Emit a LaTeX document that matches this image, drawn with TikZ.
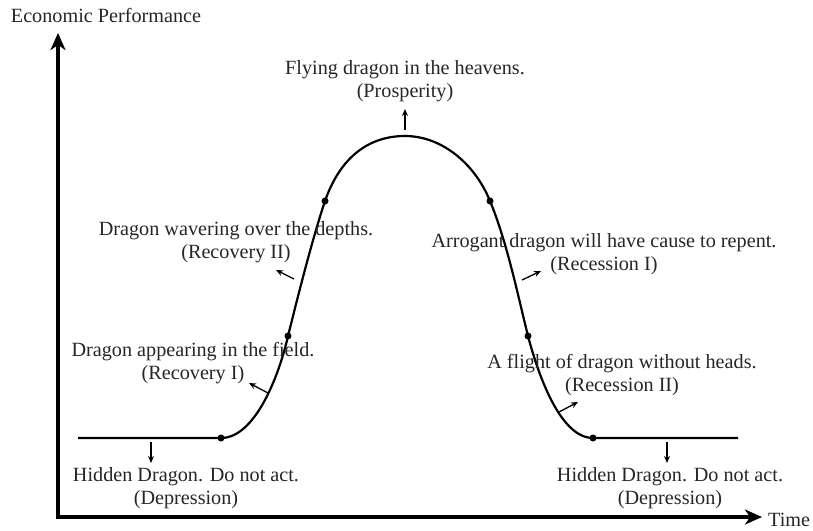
\documentclass[tikz,border=0pt]{standalone}
\usepackage{fontspec}
\setmainfont{Liberation Serif}
\usetikzlibrary{arrows.meta}

\begin{document}
\begin{tikzpicture}[x=1pt,y=-1pt]
\tikzset{
axis/.style={{Stealth[length=17pt,width=15pt,inset=5pt]}-{Stealth[length=17pt,width=15pt,inset=5pt]}, line width=3.2pt, line join=miter},
curve/.style={line width=2.2pt},
dot/.style={circle, fill=black, inner sep=0pt, minimum size=7pt},
mylabel/.style={align=center, font=\fontsize{20.2}{23}\selectfont, text=black!85, inner sep=0pt},
myarrow/.style={-{Stealth[length=7pt,width=6pt]}, line width=1.3pt},
}
\useasboundingbox (0,0) rectangle (813,530);

% axes
\coordinate (origin) at (58,517);
\coordinate (ytop) at (58,33);
\coordinate (xend) at (762,517);
\draw[axis] (ytop) -- (origin) -- (xend);
\node[mylabel] (ylabel) at (106,15) {Economic Performance};
\node[mylabel, anchor=west] (xlabel) at (768,520) {Time};

% points on the curve
\coordinate (p0) at (78,438);
\coordinate (p1) at (221,438);
\coordinate (p2) at (288,336);
\coordinate (p3) at (325,201);
\coordinate (top) at (405,136);
\coordinate (p4) at (490,201);
\coordinate (p5) at (528,336);
\coordinate (p6) at (593,438);
\coordinate (p7) at (738,438);

\draw[curve] (p0) -- (p1) .. controls (255,438) and (279,376) .. (p2)
  .. controls (298,296) and (312,240) .. (p3)
  .. controls (340,158) and (368,136) .. (top)
  .. controls (442,136) and (475,164) .. (p4)
  .. controls (507,242) and (518,296) .. (p5)
  .. controls (538,374) and (560,438) .. (p6) -- (p7);
\foreach \p in {p1,p2,p3,p4,p5,p6}
  \node[dot] at (\p) {};

% labels
\node[mylabel] (prosperity) at (405,81) {Flying dragon in the heavens.\\(Prosperity)};
\node[mylabel] (recovery2) at (236,242) {Dragon wavering over the depths.\\(Recovery II)};
\node[mylabel] (recovery1) at (193,363) {Dragon appearing in the field.\\(Recovery I)};
\node[mylabel] (recession1) at (604,254) {Arrogant dragon will have cause to repent.\\(Recession I)};
\node[mylabel] (recession2) at (622,375) {A flight of dragon without heads.\\(Recession II)};
\node[mylabel] (depression1) at (186,488) {Hidden Dragon. Do not act.\\(Depression)};
\node[mylabel] (depression2) at (670,488) {Hidden Dragon. Do not act.\\(Depression)};

% little arrows
\coordinate (a1s) at (405,130); \coordinate (a1e) at (405,109);
\coordinate (a2s) at (294,279); \coordinate (a2e) at (276,270);
\coordinate (a3s) at (268,393); \coordinate (a3e) at (249,383);
\coordinate (a4s) at (522,280); \coordinate (a4e) at (541,271);
\coordinate (a5s) at (559,412); \coordinate (a5e) at (578,402);
\coordinate (a6s) at (151,442); \coordinate (a6e) at (151,463);
\coordinate (a7s) at (667,442); \coordinate (a7e) at (667,463);
\foreach \a in {a1,a2,a3,a4,a5,a6,a7}
  \draw[myarrow] (\a s) -- (\a e);
\end{tikzpicture}
\end{document}
